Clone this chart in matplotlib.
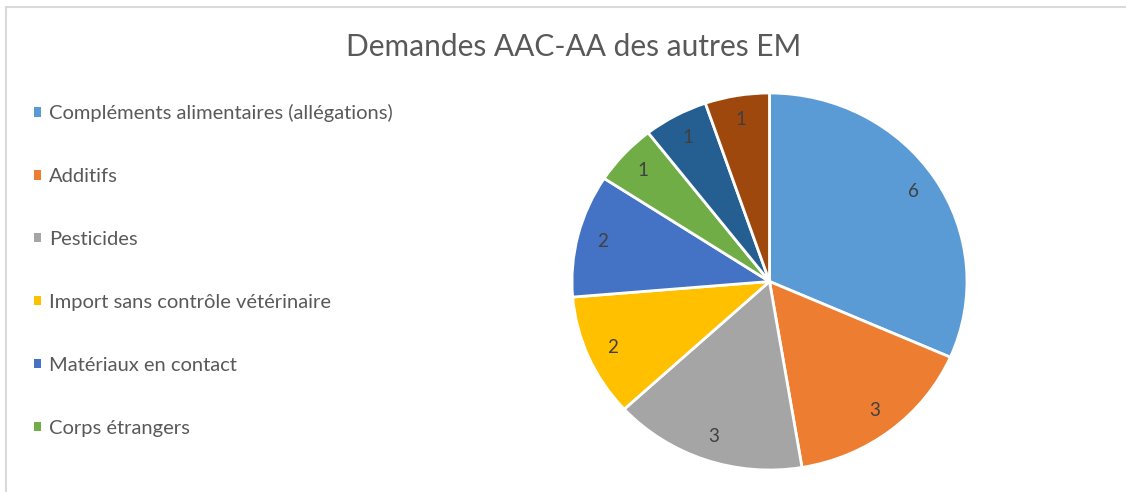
import matplotlib
matplotlib.use("Agg")
import matplotlib.pyplot as plt
from matplotlib.lines import Line2D

# values, clockwise from 12 o'clock
values = [6, 3, 3, 2, 2, 1, 1, 1]
# only the first six entries are visible in the (truncated) legend
categories = [
    "Compléments alimentaires (allégations)",
    "Additifs",
    "Pesticides",
    "Import sans contrôle vétérinaire",
    "Matériaux en contact",
    "Corps étrangers",
]
colors = ["#5B9BD5", "#ED7D31", "#A5A5A5", "#FFC000",
          "#4472C4", "#70AD47", "#255E91", "#9E480E"]
title = "Demandes AAC-AA des autres EM"

plt.rcParams["font.family"] = ["Lato", "DejaVu Sans"]
TEXT = "#595959"

W, H = 1126, 492
fig = plt.figure(figsize=(W / 100, H / 100), dpi=100)

# pie box in pixels: x 572..967, y 93..470
ax = fig.add_axes([572 / W, 1 - 470 / H, 395 / W, 377 / H])
total = sum(values)
wedges, _, autotexts = ax.pie(
    values,
    colors=colors,
    startangle=90,
    counterclock=False,
    autopct=lambda p: f"{round(p * total / 100)}",
    pctdistance=0.87,
    wedgeprops=dict(edgecolor="white", linewidth=2),
    textprops=dict(color="#404040", fontsize=13.5),
)
ax.set_aspect("auto")
ax.set_xlim(-1.0, 1.0)
ax.set_ylim(-1.0, 1.0)

fig.text(574 / W, 1 - 47 / H, title, ha="center", va="center",
         fontsize=21.5, color=TEXT)

leg = fig.legend(
    wedges[:6], categories,
    loc="upper left", bbox_to_anchor=(34 / W, 1 - 104 / H),
    frameon=False, fontsize=14.5, labelcolor=TEXT,
    borderaxespad=0, borderpad=0,
    handlelength=0.36, handleheight=0.36, handletextpad=0.4,
    labelspacing=2.28,
)
for h in leg.legend_handles:
    h.set_edgecolor("none")

# chart frame (top and left edges visible in the screenshot)
fig.add_artist(Line2D([6 / W, 1], [1 - 7 / H, 1 - 7 / H], color="#D9D9D9", lw=1.5))
fig.add_artist(Line2D([6 / W, 6 / W], [0, 1 - 7 / H], color="#D9D9D9", lw=1.5))

fig.savefig("out.png", dpi=100)
